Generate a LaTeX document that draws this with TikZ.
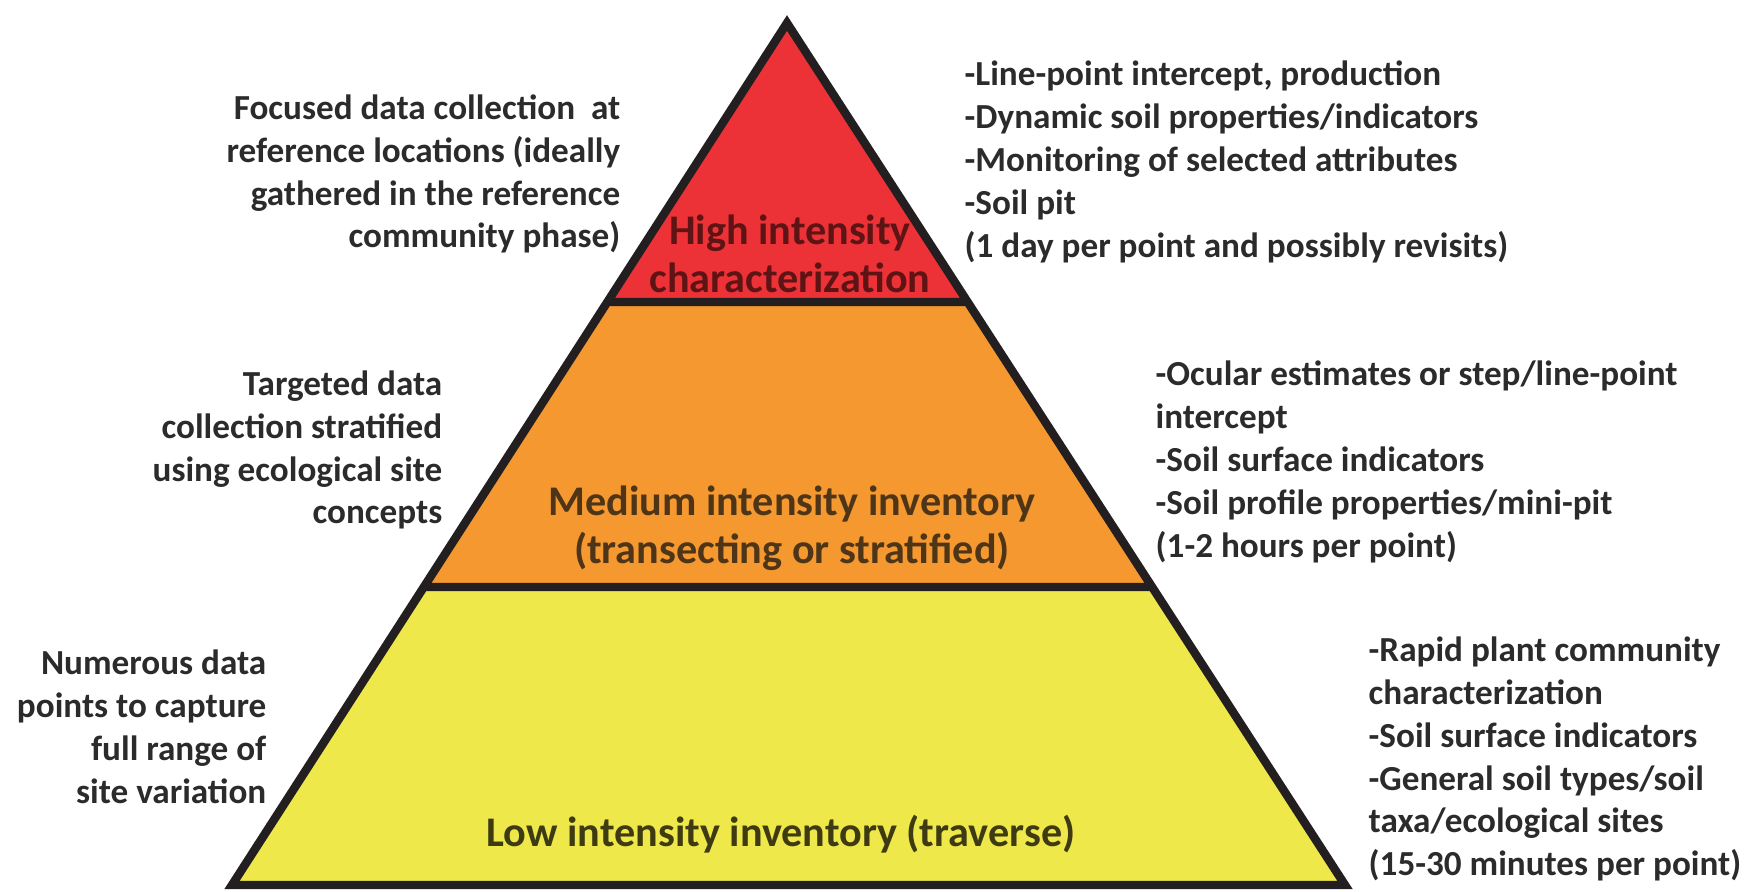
\documentclass[tikz,border=0pt]{standalone}
\usepackage{fontspec}
\setmainfont{Carlito}
\definecolor{hired}{HTML}{EC3237}
\definecolor{medorange}{HTML}{F4982F}
\definecolor{lowyellow}{HTML}{EEE84A}
\definecolor{edgeline}{HTML}{231F20}
\definecolor{notegray}{HTML}{2B2B2B}
\definecolor{hitext}{HTML}{5E1414}
\definecolor{medtext}{HTML}{4E3517}
\definecolor{lowtext}{HTML}{3E3B12}
\begin{document}
\begin{tikzpicture}[x=0.01cm,y=-0.01cm,
    note/.style={font=\fontsize{10}{12.2}\selectfont\bfseries,text=notegray,inner sep=0pt},
    lnote/.style={note,align=right,anchor=east},
    rnote/.style={note,align=left,anchor=west},
    tier/.style={font=\fontsize{12}{13.7}\selectfont\bfseries,align=center,inner sep=0pt}]
  \useasboundingbox (0,0) rectangle (1762,892);
  % tiers
  \fill[hired] (787,23) -- (965,302) -- (609,302) -- cycle;
  \fill[medorange] (609,302) -- (965,302) -- (1150,587) -- (424,587) -- cycle;
  \fill[lowyellow] (424,587) -- (1150,587) -- (1345,885) -- (232,885) -- cycle;
  \draw[edgeline,line width=2.4pt,line join=miter]
    (787,23) -- (1345,885) -- (232,885) -- cycle
    (609,302) -- (965,302)
    (424,587) -- (1150,587);
  \draw
    (790,254) node[tier,text=hitext] (high){High intensity\\characterization}
    (792,528) node[tier,text=medtext] (medium){Medium intensity inventory\\(transecting or stratified)}
    (781,834) node[tier,text=lowtext] (low){Low intensity inventory (traverse)};
  % left notes
  \draw
    (621,174) node[lnote] (highleft){Focused data collection~ at\\reference locations (ideally\\gathered in the reference\\community phase)}
    (443,450) node[lnote] (medleft){Targeted data\\collection stratified\\using ecological site\\concepts}
    (267,727) node[lnote] (lowleft){Numerous data\\points to capture\\full range of\\site variation};
  % right notes
  \draw
    (964,162) node[rnote] (highright){-Line-point intercept, production\\-Dynamic soil properties/indicators\\-Monitoring of selected attributes\\-Soil pit\\(1 day per point and possibly revisits)}
    (1155,462) node[rnote] (medright){-Ocular estimates or step/line-point\\intercept\\-Soil surface indicators\\-Soil profile properties/mini-pit\\(1-2 hours per point)}
    (1368,759) node[rnote] (lowright){-Rapid plant community\\characterization\\-Soil surface indicators\\-General soil types/soil\\taxa/ecological sites\\(15-30 minutes per point)};
\end{tikzpicture}
\end{document}
